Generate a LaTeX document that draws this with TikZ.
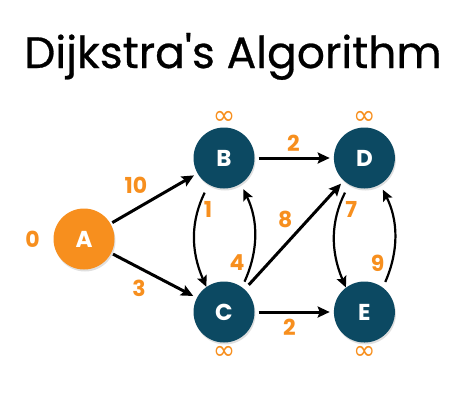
\documentclass[tikz,border=0pt]{standalone}
\usepackage{fontspec}
\setmainfont{Poppins}
\newfontfamily\titlefont{Poppins}[FakeBold=0.6]
\newfontfamily\symbolfont{DejaVu Sans}
\usetikzlibrary{arrows.meta, positioning, shadows}
\definecolor{nodeblue}{RGB}{12,73,98}
\definecolor{weightorange}{RGB}{247,143,30}
\tikzstyle{vertex} = [circle, minimum size=61pt, inner sep=0pt, fill=nodeblue, text=white, font=\fontsize{23}{23}\selectfont\bfseries, drop shadow={opacity=0.25, shadow xshift=1pt, shadow yshift=-2pt}]
\tikzstyle{source} = [vertex, fill=weightorange]
\tikzstyle{weight} = [text=weightorange, font=\fontsize{22}{22}\selectfont\bfseries]
\tikzstyle{dist} = [text=weightorange, font=\symbolfont\fontsize{27}{27}\selectfont, inner sep=0pt]
\tikzstyle{edge} = [line width=3pt, -{Stealth[length=12pt, width=11pt, inset=2pt]}]
\tikzstyle{bentedge} = [line width=2.2pt, -{Stealth[length=11pt, width=10pt, inset=2pt]}]

\begin{document}
\begin{tikzpicture}[x=1pt, y=-1pt]
\useasboundingbox (0,0) rectangle (463,400);

% Title
\node (title) [anchor=base, font=\titlefont\fontsize{44}{44}\selectfont] at (233,68) {Dijkstra\textquotesingle s Algorithm};

% Vertices
\node (a) [source, label={[weight, label distance=10pt]left:0}] at (84,239) {A};
\node (b) [vertex, label={[dist, label distance=3pt]above:∞}] at (224,158) {B};
\node (c) [vertex, label={[dist, label distance=3pt]below:∞}] at (224,312) {C};
\node (d) [vertex, right=79pt of b, label={[dist, label distance=3pt]above:∞}] {D};
\node (e) [vertex, right=79pt of c, label={[dist, label distance=3pt]below:∞}] {E};

% Straight edges
\draw [edge, shorten <=2pt, shorten >=4pt] (a) -- node (w-ab) [weight, pos=0.43, shift={(-12pt,17pt)}] {10} (b);
\draw [edge, shorten <=2pt, shorten >=4pt] (a) -- node (w-ac) [weight, pos=0.43, shift={(-9pt,-16pt)}] {3} (c);
\draw [edge, shorten <=4pt, shorten >=4pt] (b) -- node (w-bd) [weight, pos=0.49, shift={(0pt,15pt)}] {2} (d);
\draw [edge, shorten <=4pt, shorten >=4pt] (c) -- node (w-ce) [weight, pos=0.44, shift={(0pt,-15pt)}] {2} (e);
\draw [edge, shorten <=6pt, shorten >=4pt] (c) -- node (w-cd) [weight, pos=0.55, shift={(-14pt,10pt)}] {8} (d);

% Curved edges
\draw [bentedge, shorten <=9pt] (b.240) to [bend right=25] node (w-bc) [weight, pos=0.2, shift={(8pt,-4pt)}] {1} (c.125);
\draw [bentedge, shorten <=6pt, shorten >=6pt] (c.54) to [bend right=25] node (w-cb) [weight, pos=0.2, shift={(-13pt,3pt)}] {4} (b.303);
\draw [bentedge, shorten <=9pt] (d.240) to [bend right=25] node (w-de) [weight, pos=0.2, shift={(11pt,-4pt)}] {7} (e.127);
\draw [bentedge, shorten <=6pt, shorten >=6pt] (e.53) to [bend right=25] node (w-ed) [weight, pos=0.2, shift={(-13pt,3pt)}] {9} (d.301);

\end{tikzpicture}
\end{document}
